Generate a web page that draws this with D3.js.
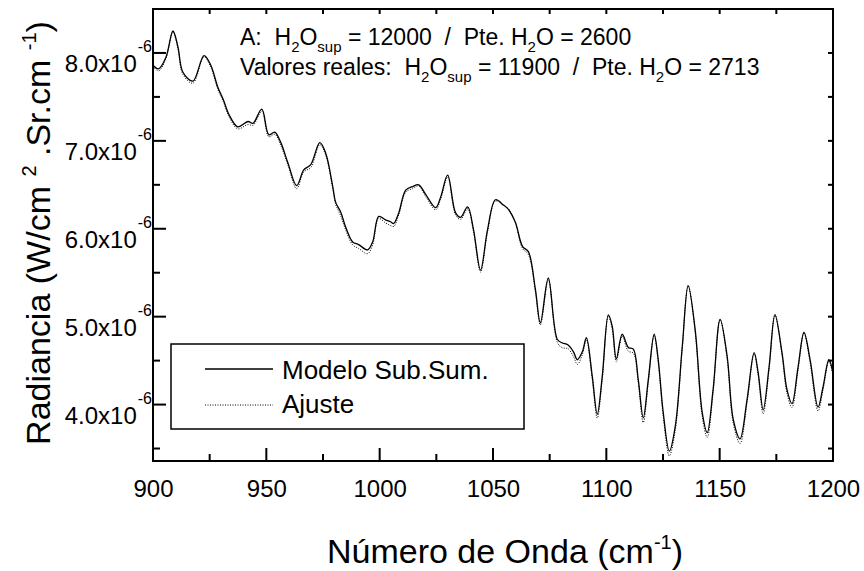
<!DOCTYPE html>
<html><head><meta charset="utf-8">
<script src="https://cdn.jsdelivr.net/npm/d3@7"></script>
<style>
body{margin:0;background:#fff;}
svg text{font-family:"Liberation Sans",Arial,sans-serif;fill:#000;white-space:pre;}
</style></head>
<body><svg id="chart" width="864" height="571"></svg>
<script>
// Data (radiance in units of 1e-6 W/cm2.Sr.cm-1)
const wavenumber = [900,902.5,905.7,908.8,911,913.2,917.6,922.5,925.5,928.6,931,933.5,937.4,941.9,944.1,948,951.1,953.7,956.4,959.5,963.4,966.5,969.6,973.6,976.2,979.3,980.6,982.8,985,988.1,990.7,994.7,996.9,999.6,1002.6,1004.8,1006.2,1008.4,1011.5,1014.5,1017.2,1020.3,1024.7,1026.9,1030,1033.5,1035.7,1038.8,1041.4,1044.5,1047.6,1051.1,1054.6,1056.8,1059.9,1063,1065.6,1068.7,1070.9,1074.4,1078.4,1080.6,1083,1085.5,1087.2,1089.4,1091.2,1093.8,1096,1098.2,1100.9,1102.6,1104.4,1107,1109.7,1111.9,1114.1,1116.3,1118.5,1121.1,1122.9,1125.1,1127.8,1130.4,1133.5,1136.1,1139.2,1142.3,1144.5,1147.1,1150.2,1153.3,1156,1159,1162.1,1165.2,1167,1169.2,1171.8,1174.4,1177.5,1179.7,1181.9,1184.6,1187.2,1189.9,1193.4,1195.6,1198.2,1200];
const modelo = [7.86,7.82,7.95,8.25,8.07,7.78,7.68,7.97,7.86,7.61,7.47,7.30,7.16,7.22,7.20,7.36,7.07,7.10,6.98,6.75,6.49,6.67,6.73,6.98,6.86,6.48,6.30,6.19,6.02,5.85,5.82,5.76,5.85,6.14,6.10,6.08,6.06,6.18,6.44,6.48,6.50,6.39,6.24,6.36,6.61,6.18,6.13,6.25,5.99,5.53,5.99,6.33,6.27,6.22,6.07,5.80,5.74,5.31,4.93,5.44,4.74,4.70,4.68,4.60,4.51,4.60,4.76,4.32,3.89,4.32,5.02,4.89,4.52,4.80,4.65,4.63,4.28,3.85,4.28,4.80,4.51,3.91,3.47,3.75,4.66,5.35,4.85,3.91,3.68,4.17,4.97,4.55,3.83,3.61,4.06,4.59,4.36,3.94,4.43,5.02,4.59,4.17,4.01,4.43,4.82,4.51,3.97,4.20,4.51,4.36];
const ajuste = [7.86,7.81,7.95,8.25,8.06,7.77,7.67,7.97,7.85,7.60,7.46,7.29,7.15,7.20,7.19,7.35,7.06,7.09,6.96,6.74,6.47,6.66,6.71,6.97,6.85,6.47,6.29,6.16,6.00,5.83,5.79,5.73,5.83,6.13,6.08,6.05,6.04,6.17,6.43,6.47,6.50,6.38,6.23,6.35,6.60,6.17,6.12,6.24,5.98,5.52,5.98,6.33,6.28,6.24,6.08,5.79,5.72,5.30,4.92,5.43,4.72,4.66,4.65,4.56,4.47,4.58,4.75,4.30,3.86,4.30,5.02,4.87,4.50,4.79,4.62,4.60,4.26,3.81,4.26,4.80,4.49,3.88,3.43,3.72,4.65,5.37,4.84,3.88,3.64,4.15,4.98,4.53,3.80,3.57,4.04,4.59,4.34,3.91,4.41,5.04,4.58,4.14,3.98,4.41,4.83,4.49,3.94,4.18,4.51,4.34];
const xMajorTicks = [900,950,1000,1050,1100,1150,1200];
const xMinorTicks = [925,975,1025,1075,1125,1175];
const yMajorTicks = [4,5,6,7,8];
const yMajorLabels = ["4.0x10","5.0x10","6.0x10","7.0x10","8.0x10"];
const yMinorTicks = [3.5,4.5,5.5,6.5,7.5,8.5];
const yExponent = "-6";
const legendLabels = ["Modelo Sub.Sum.","Ajuste"];

const L=153,R=833,T=9,B=461;
const svg=d3.select("#chart");
const xs=d3.scaleLinear().domain([900,1200]).range([L,R]);
const ys=d3.scaleLinear().domain([3.358,8.5]).range([B,T]);

// tick marks (inward) as thin filled bars placed by the scales
const tk=svg.append("g").attr("fill","#000");
function vTicks(vals,y0,len){tk.selectAll(null).data(vals).enter().append("rect")
  .attr("x",d=>xs(d)-1).attr("width",2).attr("y",len<0?y0+len:y0).attr("height",Math.abs(len));}
function hTicks(vals,x0,len){tk.selectAll(null).data(vals).enter().append("rect")
  .attr("y",d=>ys(d)-1).attr("height",2).attr("x",len<0?x0+len:x0).attr("width",Math.abs(len));}
vTicks(xMajorTicks,B,-13); vTicks(xMinorTicks,B,-7);
vTicks(xMajorTicks.concat(xMinorTicks),T,5);
hTicks(yMajorTicks,L,13); hTicks(yMinorTicks,L,7);
hTicks(yMajorTicks.concat(yMinorTicks),R,-5);

const defs=svg.append("defs");
defs.append("clipPath").attr("id","plotclip").append("rect").attr("x",L).attr("y",T).attr("width",R-L).attr("height",B-T);

const pts = wavenumber.map((w,i)=>({w,m:modelo[i],a:ajuste[i]}));
const curve=d3.curveCatmullRom.alpha(0.5);
const g=svg.append("g").attr("clip-path","url(#plotclip)");
g.append("path").datum(pts).attr("fill","none").attr("stroke","#000").attr("stroke-width",1).attr("stroke-dasharray","1,1.5")
 .attr("transform","translate(0,1.2)")
 .attr("d",d3.line().x(d=>xs(d.w)).y(d=>ys(d.a)).curve(curve));
g.append("path").datum(pts).attr("fill","none").attr("stroke","#000").attr("stroke-width",1.3)
 .attr("d",d3.line().x(d=>xs(d.w)).y(d=>ys(d.m)).curve(curve));

// axis labels via d3 axes
const gb=svg.append("g").attr("transform",`translate(0,${B})`)
 .call(d3.axisBottom(xs).tickValues(xMajorTicks).tickSize(0).tickPadding(0).tickFormat(d3.format("d")));
gb.select(".domain").remove();
gb.selectAll("text").attr("y",36).attr("dy",null).attr("font-size",24);
const gl=svg.append("g").attr("transform",`translate(${L},0)`)
 .call(d3.axisLeft(ys).tickValues(yMajorTicks).tickSize(0).tickFormat(""));
gl.select(".domain").remove();
gl.selectAll(".tick text").each(function(d,i){
  const t=d3.select(this).attr("x",-1).attr("y",19).attr("dy",null).attr("text-anchor","end").attr("font-size",24);
  t.append("tspan").text(yMajorLabels[i]);
  t.append("tspan").attr("font-size",16).attr("dy",-20).attr("dx",1).text(yExponent);
});

// axis titles
const xt=svg.append("text").attr("x",505).attr("y",563).attr("text-anchor","middle").attr("font-size",34);
xt.append("tspan").text("Número de Onda (cm");
xt.append("tspan").attr("font-size",20).attr("dy",-14).text("-1");
xt.append("tspan").attr("dy",14).text(")");
const yt=svg.append("text").attr("transform","translate(50,233) rotate(-90)").attr("text-anchor","middle").attr("font-size",34);
yt.append("tspan").text("Radiancia (W/cm ");
yt.append("tspan").attr("font-size",20).attr("dy",-14).text("2");
yt.append("tspan").attr("dy",14).text(" .Sr.cm ");
yt.append("tspan").attr("font-size",20).attr("dy",-14).text("-1");
yt.append("tspan").attr("dy",14).text(")");

// annotations
function annot(xp,yp,prefix,v1,v2){
  const t=svg.append("text").attr("x",xp).attr("y",yp).attr("font-size",23);
  t.append("tspan").text(prefix+"H");
  t.append("tspan").attr("font-size",15).attr("dy",7).text("2");
  t.append("tspan").attr("dy",-7).text("O");
  t.append("tspan").attr("font-size",15).attr("dy",7).text("sup");
  t.append("tspan").attr("dy",-7).text(" = "+v1+"  /  Pte. H");
  t.append("tspan").attr("font-size",15).attr("dy",7).text("2");
  t.append("tspan").attr("dy",-7).text("O = "+v2);
}
annot(240,45,"A:  ","12000","2600");
annot(240,75,"Valores reales:  ","11900","2713");

// legend
svg.append("rect").attr("x",171).attr("y",344).attr("width",353).attr("height",85).attr("fill","#fff").attr("stroke","#000").attr("stroke-width",1.5);
svg.append("line").attr("x1",205).attr("x2",273).attr("y1",369).attr("y2",369).attr("stroke","#000").attr("stroke-width",1.5);
svg.append("line").attr("x1",205).attr("x2",273).attr("y1",405).attr("y2",405).attr("stroke","#000").attr("stroke-width",1).attr("stroke-dasharray","1,1.5");
svg.append("text").attr("x",282).attr("y",379).attr("font-size",26).text(legendLabels[0]);
svg.append("text").attr("x",282).attr("y",413).attr("font-size",26).text(legendLabels[1]);

// frame
svg.append("rect").attr("x",L).attr("y",T).attr("width",R-L).attr("height",B-T).attr("fill","none").attr("stroke","#000").attr("stroke-width",2);
</script></body></html>
